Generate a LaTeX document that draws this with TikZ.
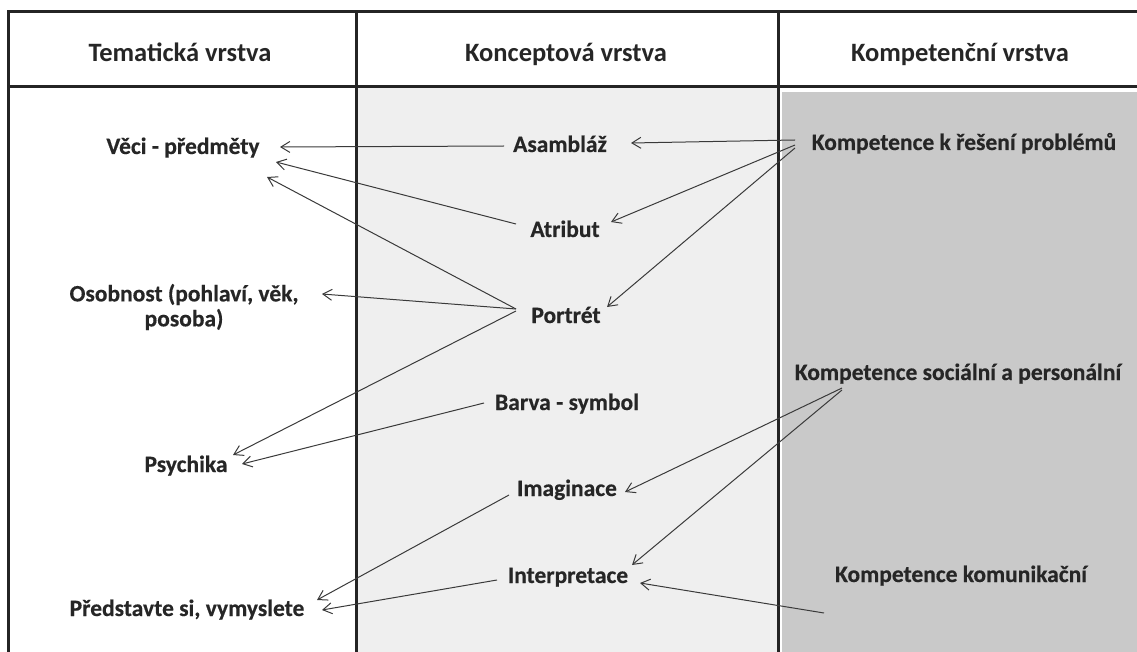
\documentclass[tikz,border=0pt]{standalone}
\usepackage{fontspec}
\setmainfont{Carlito}[BoldFeatures={FakeBold=0.4}]
\newfontfamily\hdrfont{Carlito}
\usetikzlibrary{arrows.meta}
\definecolor{midgrey}{HTML}{EFEFEF}
\definecolor{rightgrey}{HTML}{C9C9C9}
\definecolor{ink}{HTML}{262626}
\definecolor{rule}{HTML}{242424}
\definecolor{linkc}{HTML}{3A3A3A}
\begin{document}
\begin{tikzpicture}[x=1pt,y=-1pt,
  hdr/.style={anchor=base,inner sep=0pt,text=ink,font=\hdrfont\bfseries\fontsize{26.5}{32}\selectfont},
  lbl/.style={anchor=base,inner sep=0pt,text=ink,font=\bfseries\fontsize{23.5}{25}\selectfont},
  tableline/.style={draw=rule,line width=3pt},
  link/.style={draw=linkc,line width=1pt,-{Straight Barb[length=9pt,width=11pt]}}]
\useasboundingbox (0,0) rectangle (1137,652);
% column fills
\fill[midgrey] (356,87) rectangle (778,652);
\fill[rightgrey] (782,92) rectangle (1137,652);
% table rules
\draw[tableline] (8,652) -- (8,12) -- (1137,12);
\draw[tableline] (8,87) -- (1137,87);
\draw[tableline] (356,12) -- (356,652);
\draw[tableline] (778,12) -- (778,652);
% headers
\node[hdr] (h1) at (180,62) {Tematická vrstva};
\node[hdr] (h2) at (566,62) {Konceptová vrstva};
\node[hdr] (h3) at (960,62) {Kompetenční vrstva};
% left column
\node[lbl] (veci) at (183,154) {Věci - předměty};
\node[lbl,anchor=center,align=center] (osob) at (184,307) {Osobnost (pohlaví, věk,\\posoba)};
\node[lbl] (psych) at (186,472) {Psychika};
\node[lbl] (pred) at (187,616) {Představte si, vymyslete};
% middle column
\node[lbl] (asam) at (560,152) {Asambláž};
\node[lbl] (atr) at (565,237) {Atribut};
\node[lbl] (portret) at (566,323) {Portrét};
\node[lbl] (barva) at (567,410) {Barva - symbol};
\node[lbl] (imag) at (567,496) {Imaginace};
\node[lbl] (interp) at (568,583) {Interpretace};
% right column
\node[lbl] (kres) at (964,150) {Kompetence k řešení problémů};
\node[lbl] (ksoc) at (958,380) {Kompetence sociální a personální};
\node[lbl] (kkom) at (961,582) {Kompetence komunikační};
\coordinate (kkomtail) at ([shift={(-137,31)}]kkom.base);
% connectors: concept -> theme
\draw[link] ([shift={(-56,-6)}]asam.base) -- ([shift={(97,-7)}]veci.base);
\draw[link] ([shift={(-49,-13)}]atr.base) -- ([shift={(93,8)}]veci.base);
\draw[link] ([shift={(-50,-14)}]portret.base) -- ([shift={(84,23)}]veci.base);
\draw[link] ([shift={(-50,-14)}]portret.base) -- ([shift={(138,-13)}]osob.center);
\draw[link] ([shift={(-50,-12)}]portret.base) -- ([shift={(47,-17)}]psych.base);
\draw[link] ([shift={(-83,-7)}]barva.base) -- ([shift={(56,-8)}]psych.base);
\draw[link] ([shift={(-58,-1)}]imag.base) -- ([shift={(130,-16)}]pred.base);
\draw[link] ([shift={(-71,-3)}]interp.base) -- ([shift={(135,-6)}]pred.base);
% connectors: competence -> concept
\draw[link] ([shift={(-169,-10)}]kres.base) -- ([shift={(71,-9)}]asam.base);
\draw[link] ([shift={(-169,-5)}]kres.base) -- ([shift={(46,-15)}]atr.base);
\draw[link] ([shift={(-169,-2)}]kres.base) -- ([shift={(41,-16)}]portret.base);
\draw[link] ([shift={(-116,8)}]ksoc.base) -- ([shift={(58,-4)}]imag.base);
\draw[link] ([shift={(-116,10)}]ksoc.base) -- ([shift={(64,-18)}]interp.base);
\draw[link] (kkomtail) -- ([shift={(72,0)}]interp.base);
\end{tikzpicture}
\end{document}
